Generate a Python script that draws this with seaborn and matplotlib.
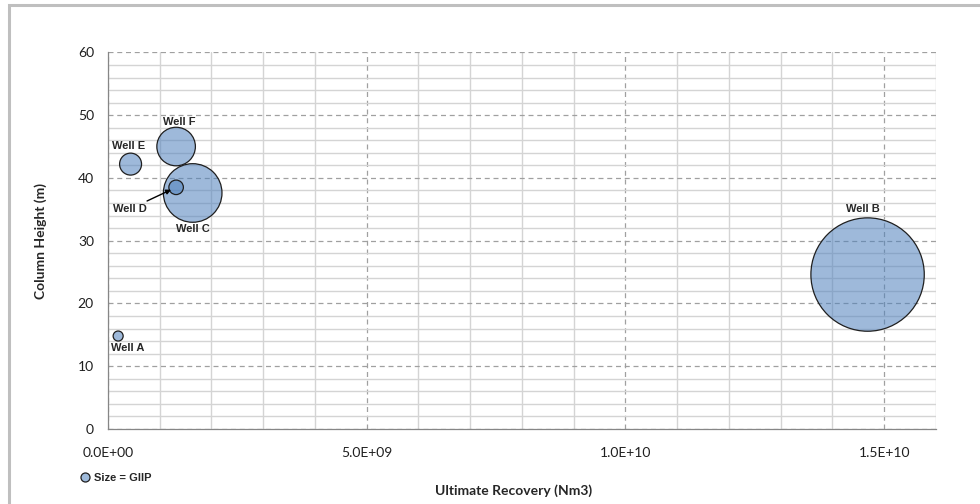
import matplotlib.pyplot as plt
import matplotlib.ticker as mticker
from matplotlib.lines import Line2D
from matplotlib.patches import Rectangle
import pandas as pd
import seaborn as sns

# Dados
wells = ['Well A', 'Well B', 'Well C', 'Well D', 'Well E', 'Well F']
recovery = [0.20e9, 14.68e9, 1.64e9, 1.32e9, 0.44e9, 1.32e9]   # Nm3
column_height = [14.8, 24.6, 37.6, 38.5, 42.2, 45.0]           # m
giip = [0.5, 64.0, 17.1, 1.05, 2.4, 7.4]                       # tamanho da bolha

dados = pd.DataFrame({'well': wells, 'recovery': recovery,
                      'height': column_height, 'giip': giip})

sns.set_style('white')
plt.rcParams['font.family'] = ['Lato', 'DejaVu Sans']

fig = plt.figure(figsize=(9.8, 5.04), dpi=100)
ax = fig.add_axes([0.110, 0.149, 0.845, 0.747])

ax.set_axisbelow(True)
ax.set_xlim(0, 1.6e10)
ax.set_ylim(0, 60)
ax.xaxis.set_major_locator(mticker.MultipleLocator(5e9))
ax.xaxis.set_minor_locator(mticker.MultipleLocator(1e9))
ax.yaxis.set_major_locator(mticker.MultipleLocator(10))
ax.yaxis.set_minor_locator(mticker.MultipleLocator(2))
ax.xaxis.set_major_formatter(mticker.FuncFormatter(
    lambda v, p: '{:.1E}'.format(v) if v else '0.0E+00'))
ax.grid(which='minor', color='#D4D4D4', linewidth=1.0, linestyle='-')
ax.grid(which='major', color='#A0A0A0', linewidth=0.9, linestyle=(0, (4, 3)))

# Bolhas (área proporcional ao GIIP)
sns.scatterplot(data=dados, x='recovery', y='height', size='giip',
                sizes=(0, 6663), size_norm=(0, 64), legend=False,
                color='#4F81BD', ax=ax, clip_on=False, zorder=3)
bolhas = ax.collections[0]
bolhas.set_alpha(None)
bolhas.set_facecolor((79 / 255, 129 / 255, 189 / 255, 0.55))
bolhas.set_edgecolor('#1F1F1F')
bolhas.set_linewidth(0.9)

# Rótulos dos poços (deslocamento em pontos)
offsets = {'Well A': (7, -8.4), 'Well B': (-3.6, 47.3), 'Well C': (0, -25.7),
           'Well D': (-33.6, -15.8), 'Well E': (-1.4, 13), 'Well F': (2, 17.8)}
for w, xv, yv in zip(wells, recovery, column_height):
    arrow = None
    if w == 'Well D':
        arrow = dict(arrowstyle='-|>', color='black', lw=1.0,
                     shrinkA=0, shrinkB=4, mutation_scale=7)
    ax.annotate(w, (xv, yv), xytext=offsets[w], textcoords='offset points',
                ha='center', va='center', fontsize=8, fontweight='bold',
                family=['Liberation Sans', 'DejaVu Sans'],
                arrowprops=arrow, zorder=5)

for s in ['top', 'right']:
    ax.spines[s].set_visible(False)
for s in ['left', 'bottom']:
    ax.spines[s].set_color('#868686')
    ax.spines[s].set_linewidth(0.9)
ax.tick_params(which='major', length=4, color='#868686', direction='out',
               labelsize=10, labelcolor='#1F1F1F', pad=6)
ax.tick_params(which='minor', length=0)
ax.tick_params(axis='x', pad=9)

ax.set_xlabel('Ultimate Recovery (Nm3)', fontsize=10, fontweight='bold')
ax.set_ylabel('Column Height (m)', fontsize=10, fontweight='bold',
              labelpad=22)
ax.xaxis.set_label_coords(0.49, -0.146)

# Legenda
handle = Line2D([], [], marker='o', linestyle='none', markersize=6.5,
                markerfacecolor='#9EBADB', markeredgecolor='#1F1F1F',
                markeredgewidth=0.9)
fig.legend([handle], ['Size = GIIP'], loc='center left',
           bbox_to_anchor=(0.081, 0.052), frameon=False, handlelength=1,
           handletextpad=0.3, borderpad=0, borderaxespad=0,
           prop={'family': 'Liberation Sans', 'weight': 'bold', 'size': 8})

# Moldura externa
fig.patches.append(Rectangle((0.009, -0.1), 1.2, 1.09, transform=fig.transFigure,
                             fill=False, edgecolor='#BFBFBF', linewidth=2.2))

fig.savefig('out.png', dpi=100)
